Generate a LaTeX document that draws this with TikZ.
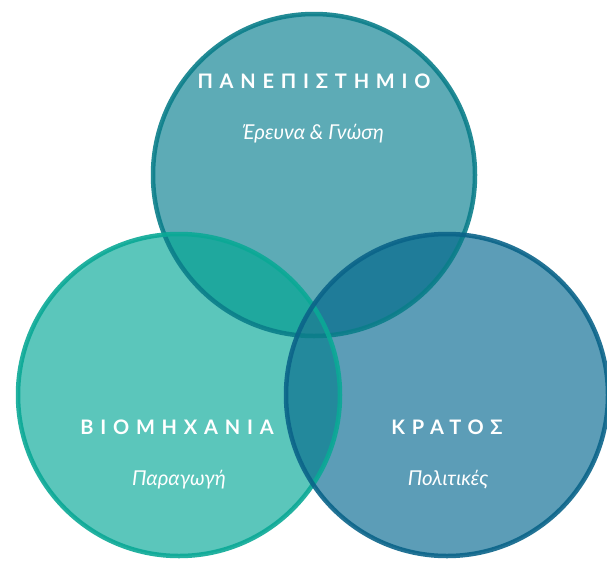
\documentclass[tikz,border=0pt]{standalone}
\usepackage{fontspec}
\setmainfont{Lato}
\newfontfamily\spacedfont[LetterSpace=34]{Lato}
\usetikzlibrary{positioning}

\definecolor{unifill}{HTML}{5DABB6}
\definecolor{indfill}{HTML}{5BC6BB}
\definecolor{govfill}{HTML}{5C9DB7}
\definecolor{uniline}{HTML}{0B7E8A}
\definecolor{indline}{HTML}{0BA996}
\definecolor{govline}{HTML}{0B6489}
\definecolor{uniind}{HTML}{1FA89E}
\definecolor{unigov}{HTML}{1F7C99}
\definecolor{indgov}{HTML}{23899C}
\definecolor{allthree}{HTML}{1E8595}

\tikzset{
  % circle outlines
  ring/.style={line width=4.5pt,draw opacity=.9},
  % labels
  sectortitle/.style={text=white,font=\spacedfont\bfseries\fontsize{20}{24}\selectfont,inner sep=0pt},
  sectorsub/.style={text=white,font=\itshape\fontsize{20.5}{24}\selectfont,inner sep=0pt},
}

\begin{document}
\begin{tikzpicture}[x=1pt,y=-1pt]
  \useasboundingbox (0,0) rectangle (607,560);
  \clip (0,0) rectangle (607,560);
  \coordinate (cu) at (314,175);
  \coordinate (ci) at (179,395);
  \coordinate (cg) at (447,395);
  \fill[unifill] (cu) circle (161pt);
  \fill[indfill] (ci) circle (161pt);
  \fill[govfill] (cg) circle (161pt);
  % overlaps
  \begin{scope}
    \clip (cu) circle (161pt);
    \fill[uniind] (ci) circle (161pt);
    \fill[unigov] (cg) circle (161pt);
  \end{scope}
  \begin{scope}
    \clip (ci) circle (161pt);
    \fill[indgov] (cg) circle (161pt);
  \end{scope}
  \begin{scope}
    \clip (cu) circle (161pt);
    \clip (ci) circle (161pt);
    \fill[allthree] (cg) circle (161pt);
  \end{scope}
  \draw[ring,uniline] (cu) circle (161pt);
  \draw[ring,indline] (ci) circle (161pt);
  \draw[ring,govline] (cg) circle (161pt);
  % texts
  \node[sectortitle] (unititle) at (314,81) {ΠΑΝΕΠΙΣΤΗΜΙΟ};
  \node[sectorsub] (unisub) at (313,134) {Έρευνα \& Γνώση};
  \node[sectortitle] (indtitle) at (177,427) {ΒΙΟΜΗΧΑΝΙΑ};
  \node[sectorsub] (indsub) at (179,480) {Παραγωγή};
  \node[sectortitle] (govtitle) at (447,427) {ΚΡΑΤΟΣ};
  \node[sectorsub] (govsub) at (448,480) {Πολιτικές};
\end{tikzpicture}
\end{document}
